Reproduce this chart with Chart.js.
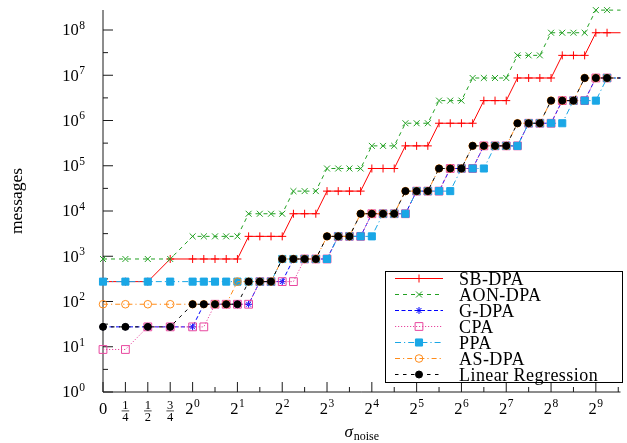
<!DOCTYPE html>
<html>
<head>
<meta charset="utf-8">
<script src="https://cdn.jsdelivr.net/npm/chart.js@4.4.1/dist/chart.umd.min.js"></script>
<style>
  html, body { margin: 0; padding: 0; background: #fff; }
  canvas { display: block; }
</style>
</head>
<body>
<canvas id="chart" width="627" height="443"></canvas>
<script>
// sigma axis positions in quarter-octave steps: 0, 1/4, 1/2, 3/4 (two steps each), then 2^0, 2^0.25, ...
var sigmaPos = [0, 2, 4, 6, 8, 9, 10, 11, 12, 13, 14, 15, 16, 17, 18, 19, 20, 21, 22, 23, 24, 25, 26, 27,
  28, 29, 30, 31, 32, 33, 34, 35, 36, 37, 38, 39, 40, 41, 42, 43, 44, 45, 47];

var sbDpa = [275, 275, 275,
  870, 870, 870, 870, 870, 870,
  2750, 2750, 2750, 2750,
  8700, 8700, 8700,
  27500, 27500, 27500, 27500,
  87000, 87000, 87000,
  275000, 275000, 275000,
  870000, 870000, 870000, 870000,
  2.75e6, 2.75e6, 2.75e6,
  8.7e6, 8.7e6, 8.7e6, 8.7e6,
  2.75e7, 2.75e7, 2.75e7,
  8.7e7, 8.7e7, 8.7e7];

var aonDpa = [870, 870, 870, 870,
  2750, 2750, 2750, 2750, 2750,
  8700, 8700, 8700, 8700,
  27500, 27500, 27500,
  87000, 87000, 87000, 87000,
  275000, 275000, 275000,
  870000, 870000, 870000,
  2.75e6, 2.75e6, 2.75e6,
  8.7e6, 8.7e6, 8.7e6, 8.7e6,
  2.75e7, 2.75e7, 2.75e7,
  8.7e7, 8.7e7, 8.7e7, 8.7e7,
  2.75e8, 2.75e8, 2.75e8];

var gDpa = [27.5, 27.5, 27.5, 27.5, 27.5,
  87, 87, 87, 87, 87,
  275, 275, 275,
  870, 870, 870, 870,
  2750, 2750, 2750,
  8700, 8700, 8700, 8700,
  27500, 27500, 27500,
  87000, 87000, 87000,
  275000, 275000, 275000, 275000,
  870000, 870000, 870000,
  2.75e6, 2.75e6, 2.75e6,
  8.7e6, 8.7e6, 8.7e6];

var cpa = [8.7, 8.7,
  27.5, 27.5, 27.5, 27.5,
  87, 87, 87, 87,
  275, 275, 275, 275,
  870, 870, 870,
  2750, 2750, 2750,
  8700, 8700, 8700, 8700,
  27500, 27500, 27500,
  87000, 87000, 87000,
  275000, 275000, 275000, 275000,
  870000, 870000, 870000,
  2.75e6, 2.75e6, 2.75e6,
  8.7e6, 8.7e6, 8.7e6];

var ppa = [275, 275, 275, 275, 275, 275, 275, 275, 275, 275, 275, 275,
  870, 870, 870, 870, 870,
  2750, 2750, 2750, 2750,
  8700, 8700, 8700,
  27500, 27500, 27500, 27500,
  87000, 87000, 87000,
  275000, 275000, 275000,
  870000, 870000, 870000, 870000,
  2.75e6, 2.75e6, 2.75e6,
  8.7e6, 8.7e6];

var asDpa = [87, 87, 87, 87, 87, 87, 87, 87,
  275, 275, 275, 275,
  870, 870, 870, 870,
  2750, 2750, 2750,
  8700, 8700, 8700, 8700,
  27500, 27500, 27500,
  87000, 87000, 87000,
  275000, 275000, 275000, 275000,
  870000, 870000, 870000,
  2.75e6, 2.75e6, 2.75e6,
  8.7e6, 8.7e6, 8.7e6, 8.7e6];

var linReg = [27.5, 27.5, 27.5, 27.5,
  87, 87, 87, 87, 87,
  275, 275, 275,
  870, 870, 870, 870,
  2750, 2750, 2750,
  8700, 8700, 8700, 8700,
  27500, 27500, 27500,
  87000, 87000, 87000,
  275000, 275000, 275000, 275000,
  870000, 870000, 870000,
  2.75e6, 2.75e6, 2.75e6,
  8.7e6, 8.7e6, 8.7e6, 8.7e6];

// tick positions and labels
var xMajorPos = [0, 2, 4, 6, 8, 12, 16, 20, 24, 28, 32, 36, 40, 44];
var xTickLabels = ['0', '1/4', '1/2', '3/4', '2^0', '2^1', '2^2', '2^3', '2^4', '2^5', '2^6', '2^7', '2^8', '2^9'];
var xMinorPos = [10, 14, 18, 22, 26, 30, 34, 38, 42, 46];
var yMajorVals = [1, 10, 100, 1e3, 1e4, 1e5, 1e6, 1e7, 1e8];
var yTickLabels = ['10^0', '10^1', '10^2', '10^3', '10^4', '10^5', '10^6', '10^7', '10^8'];
var yMinorVals = yMajorVals.slice(0, 8).map(function (v) { return v * Math.sqrt(10); });

var FONT = '"Liberation Serif", "DejaVu Serif", serif';

function makeSet(label, values, color, dash, style, radius, fill, order) {
  return {
    label: label,
    data: values.map(function (v, i) { return { x: sigmaPos[i], y: v }; }),
    borderColor: color,
    borderWidth: 1,
    borderDash: dash,
    pointStyle: style,
    pointRadius: radius,
    pointBorderColor: color,
    pointBackgroundColor: fill,
    pointBorderWidth: 1,
    tension: 0,
    order: order,
    clip: { left: 10, top: 10, right: 0, bottom: 10 }
  };
}

function drawPow(ctx, base, exp, x, y, align) {
  ctx.font = '16.5px ' + FONT;
  var wb = ctx.measureText(base).width;
  ctx.font = '11.5px ' + FONT;
  var we = ctx.measureText(exp).width;
  var total = wb + we + 0.5;
  var x0 = align === 'right' ? x - total : x - total / 2;
  ctx.textAlign = 'left';
  ctx.font = '16.5px ' + FONT;
  ctx.fillText(base, x0, y);
  ctx.font = '11.5px ' + FONT;
  ctx.fillText(exp, x0 + wb + 0.5, y - 6.5);
}

function tick(ctx, x1, y1, x2, y2) {
  ctx.beginPath();
  ctx.moveTo(x1, y1);
  ctx.lineTo(x2, y2);
  ctx.stroke();
}

var axesPlugin = {
  id: 'pgfAxes',
  beforeDatasetsDraw: function (chart) {
    var ctx = chart.ctx;
    var xs = chart.scales.x;
    var ys = chart.scales.y;
    var area = chart.chartArea;
    ctx.save();
    ctx.strokeStyle = '#1a1a1a';
    ctx.lineWidth = 1;
    ctx.setLineDash([]);

    // axis lines (left and bottom only)
    ctx.beginPath();
    ctx.moveTo(area.left, area.top);
    ctx.lineTo(area.left, area.bottom);
    ctx.lineTo(area.right, area.bottom);
    ctx.stroke();

    // ticks point inward
    yMajorVals.forEach(function (v) {
      var y = ys.getPixelForValue(v);
      tick(ctx, area.left, y, area.left + 10, y);
    });
    yMinorVals.forEach(function (v) {
      var y = ys.getPixelForValue(v);
      tick(ctx, area.left, y, area.left + 5, y);
    });
    xMajorPos.forEach(function (p) {
      var x = xs.getPixelForValue(p);
      tick(ctx, x, area.bottom, x, area.bottom - 10);
    });
    xMinorPos.forEach(function (p) {
      var x = xs.getPixelForValue(p);
      tick(ctx, x, area.bottom, x, area.bottom - 5);
    });

    ctx.fillStyle = '#000';
    ctx.textBaseline = 'alphabetic';

    // y tick labels 10^k
    yMajorVals.forEach(function (v, i) {
      var y = ys.getPixelForValue(v);
      var parts = yTickLabels[i].split('^');
      drawPow(ctx, parts[0], parts[1], 85, y + 5.3, 'right');
    });

    // x tick labels
    var base = area.bottom + 21.5;
    xMajorPos.forEach(function (p, i) {
      var x = xs.getPixelForValue(p);
      var lab = xTickLabels[i];
      if (lab.indexOf('/') >= 0) {
        var fr = lab.split('/');
        ctx.font = '12.5px ' + FONT;
        ctx.textAlign = 'center';
        ctx.fillText(fr[0], x, base - 5);
        ctx.fillText(fr[1], x, base + 7.5);
        ctx.lineWidth = 0.8;
        tick(ctx, x - 3.8, base - 2.6, x + 3.8, base - 2.6);
        ctx.lineWidth = 1;
      } else if (lab.indexOf('^') >= 0) {
        var pw = lab.split('^');
        drawPow(ctx, pw[0], pw[1], x, base, 'center');
      } else {
        ctx.font = '16.5px ' + FONT;
        ctx.textAlign = 'center';
        ctx.fillText(lab, x, base);
      }
    });

    // x title: sigma_noise
    ctx.textAlign = 'left';
    ctx.font = 'italic 17px ' + FONT;
    var ws = ctx.measureText('\u03c3').width;
    ctx.font = '12px ' + FONT;
    var wn = ctx.measureText('noise').width;
    var cx = (area.left + area.right) / 2;
    var sx = cx - (ws + wn + 1) / 2;
    ctx.font = 'italic 17px ' + FONT;
    ctx.fillText('\u03c3', sx, 436.5);
    ctx.font = '12px ' + FONT;
    ctx.fillText('noise', sx + ws + 1, 439.5);

    // y title
    ctx.save();
    ctx.translate(21.5, (area.top + area.bottom) / 2);
    ctx.rotate(-Math.PI / 2);
    ctx.textAlign = 'center';
    ctx.font = '17.5px ' + FONT;
    ctx.fillText('messages', 0, 0);
    ctx.restore();

    ctx.restore();
  },
  afterDatasetsDraw: function (chart) {
    var ctx = chart.ctx;
    var lx = 385.5, ly = 271.5, lw = 237, lh = 111;
    ctx.save();
    ctx.fillStyle = '#fff';
    ctx.fillRect(lx, ly, lw, lh);
    ctx.strokeStyle = '#000';
    ctx.lineWidth = 1;
    ctx.strokeRect(lx, ly, lw, lh);

    chart.data.datasets.forEach(function (ds, i) {
      var cy = 278.5 + 16 * i;
      ctx.strokeStyle = ds.borderColor;
      ctx.lineWidth = 1;
      ctx.setLineDash(ds.borderDash);
      tick(ctx, 395, cy, 443, cy);
      ctx.setLineDash([]);
      ctx.fillStyle = ds.pointBackgroundColor;
      ctx.strokeStyle = ds.pointBorderColor;
      Chart.helpers.drawPoint(ctx, {
        pointStyle: ds.pointStyle,
        radius: ds.pointRadius,
        rotation: 0,
        borderWidth: 1
      }, 419, cy);
      ctx.fillStyle = '#000';
      ctx.font = '18px ' + FONT;
      ctx.letterSpacing = '0.45px';
      ctx.textAlign = 'left';
      ctx.textBaseline = 'alphabetic';
      ctx.fillText(ds.label, 459, cy + 6);
      ctx.letterSpacing = '0px';
    });
    ctx.restore();
  }
};

var clear = 'rgba(0,0,0,0)';
var datasets = [
  makeSet('SB-DPA', sbDpa, '#ff0000', [], 'cross', 4, '#ff0000', 6),
  makeSet('AON-DPA', aonDpa, '#22a022', [4, 4], 'crossRot', 4.2, '#22a022', 5),
  makeSet('G-DPA', gDpa, '#0000ff', [4, 2.5], 'star', 3.5, '#0000ff', 4),
  makeSet('CPA', cpa, '#e8479f', [1.2, 1.8], 'rect', 5.5, clear, 3),
  makeSet('PPA', ppa, '#1aa7e6', [6, 3, 1.2, 3], 'rect', 5, '#1aa7e6', 2),
  makeSet('AS-DPA', asDpa, '#ff8c1a', [5, 3, 1.2, 3], 'circle', 3.8, clear, 1),
  makeSet('Linear Regression', linReg, '#000000', [3.5, 4.5], 'circle', 3.5, '#000000', 0)
];

new Chart(document.getElementById('chart').getContext('2d'), {
  type: 'line',
  data: { datasets: datasets },
  options: {
    responsive: false,
    devicePixelRatio: 1,
    animation: false,
    events: [],
    layout: { padding: { left: 103, top: 10, right: 4.25, bottom: 51 } },
    plugins: { legend: { display: false }, tooltip: { enabled: false } },
    scales: {
      x: { type: 'linear', min: 0, max: 46.2, display: false },
      y: { type: 'logarithmic', min: 1, max: Math.pow(10, 8.442), display: false }
    }
  },
  plugins: [axesPlugin]
});
</script>
</body>
</html>
